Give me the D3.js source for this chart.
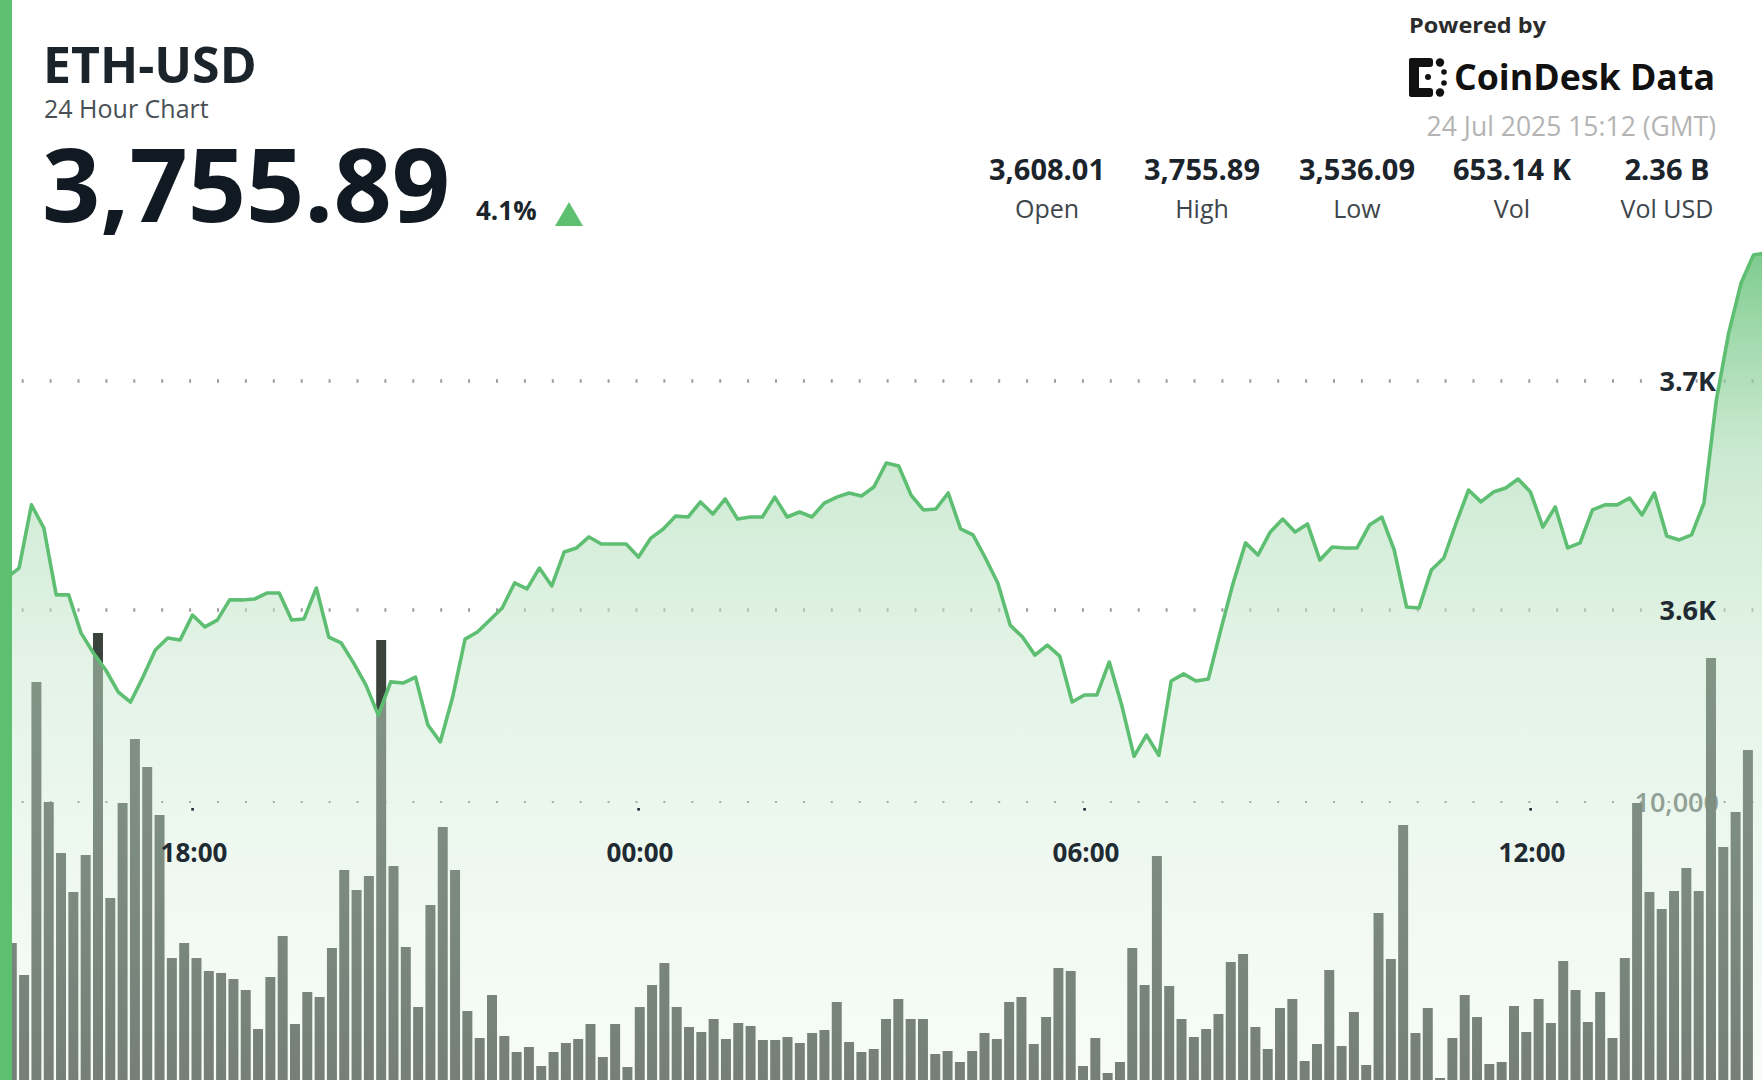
<!DOCTYPE html>
<html>
<head>
<meta charset="utf-8">
<script src="https://cdn.jsdelivr.net/npm/d3@7"></script>
<style>
  html, body { margin: 0; padding: 0; background: #ffffff; }
  svg { display: block; }
  text { font-family: "Open Sans", "Noto Sans", sans-serif; }
</style>
</head>
<body>
<svg id="chart" width="1762" height="1080"></svg>
<script>
// ---------------- DATA ----------------
const symbol = "ETH-USD";
const subtitle = "24 Hour Chart";
const lastPrice = "3,755.89";
const changePct = "4.1%";
const poweredBy = "Powered by";
const brand = "CoinDesk Data";
const timestamp = "24 Jul 2025 15:12 (GMT)";
const statLabels = ["Open", "High", "Low", "Vol", "Vol USD"];
const statValues = ["3,608.01", "3,755.89", "3,536.09", "653.14 K", "2.36 B"];
const priceTicks = [3600, 3700];
const volumeTicks = [10000];

// 10-minute price points, 23 Jul 15:30 -> 24 Jul 15:10 (GMT)
const prices = [
  3614.0, 3618.3, 3645.9, 3635.8, 3606.6, 3606.6, 3590.0, 3581.2, 3573.8, 3564.2,
  3559.8, 3570.7, 3582.5, 3587.8, 3586.9, 3597.8, 3592.6, 3595.6, 3604.4, 3604.4,
  3604.8, 3607.4, 3607.4, 3595.6, 3596.1, 3609.6, 3588.2, 3585.6, 3576.9, 3567.2,
  3554.1, 3568.6, 3568.1, 3570.7, 3549.8, 3542.4, 3562.0, 3587.3, 3590.4, 3595.6,
  3600.9, 3611.8, 3609.2, 3618.3, 3610.5, 3625.3, 3627.1, 3631.9, 3628.8, 3628.8,
  3628.8, 3623.1, 3631.4, 3635.4, 3641.0, 3640.6, 3647.2, 3641.9, 3648.5, 3639.7,
  3640.6, 3640.6, 3649.3, 3640.6, 3642.8, 3640.6, 3646.7, 3649.3, 3651.1, 3649.8,
  3653.7, 3664.2, 3662.9, 3650.2, 3643.7, 3644.1, 3651.1, 3635.4, 3632.8, 3622.7,
  3611.8, 3593.4, 3588.2, 3580.3, 3584.7, 3579.9, 3559.8, 3562.9, 3562.9, 3577.3,
  3558.5, 3536.1, 3545.4, 3536.5, 3569.0, 3572.1, 3569.0, 3569.9, 3591.3, 3611.8,
  3629.3, 3624.0, 3634.1, 3639.7, 3634.1, 3637.6, 3621.8, 3627.5, 3627.1, 3627.1,
  3637.1, 3640.6, 3626.2, 3601.3, 3600.9, 3617.5, 3622.7, 3638.0, 3652.4, 3647.2,
  3651.5, 3653.3, 3657.2, 3651.5, 3636.2, 3645.0, 3627.1, 3629.3, 3643.7, 3645.9,
  3645.9, 3648.9, 3641.5, 3651.1, 3632.3, 3630.6, 3632.8, 3646.7, 3691.7, 3721.0,
  3742.8, 3755.0, 3755.89
];

// 10-minute volumes (ETH), 23 Jul 15:30 -> 24 Jul 15:00 (GMT)
const volumes = [
  4928, 3777, 14316, 10000, 8165, 6762, 8093, 16079, 6547, 9964,
  12266, 11259, 9532, 4388, 4928, 4388, 3921, 3849, 3633, 3237,
  1834, 3705, 5180, 2014, 3165, 2986, 4748, 7554, 6834, 7338,
  15827, 7698, 4784, 2626, 6295, 9100, 7554, 2482, 1511, 3057,
  1583, 1007, 1187, 504, 1007, 1331, 1475, 2014, 827, 2014,
  468, 2626, 3417, 4208, 2626, 1906, 1727, 2194, 1475, 2050,
  1942, 1439, 1439, 1547, 1331, 1691, 1799, 2806, 1367, 1007,
  1115, 2194, 2914, 2194, 2194, 935, 1043, 647, 1043, 1691,
  1475, 2806, 2986, 1295, 2266, 4029, 3921, 504, 1511, 252,
  647, 4748, 3417, 8057, 3381, 2194, 1547, 1834, 2374, 4244,
  4532, 1906, 1115, 2590, 2914, 683, 1295, 3957, 1223, 2446,
  540, 6007, 4352, 9172, 1691, 2590, 72, 1511, 3057, 2266,
  576, 647, 2662, 1727, 2914, 2050, 4280, 3237, 2086, 3165,
  1511, 4388, 9964, 6762, 6151, 6798, 7626, 6798, 15180, 8381,
  9640, 11870
];

const startTime = new Date(Date.UTC(2025, 6, 23, 15, 30));
const times = d3.utcMinute.every(10).range(startTime, d3.utcMinute.offset(startTime, 10 * prices.length));

// ---------------- LAYOUT ----------------
const W = 1762, H = 1080;
const svg = d3.select("#chart");

const x = d3.scaleUtc()
  .domain([new Date(Date.UTC(2025, 6, 23, 18, 0)), new Date(Date.UTC(2025, 6, 24, 12, 0))])
  .range([192.5, 1530.5]);

const xBar = d3.scaleBand()
  .domain(d3.range(volumes.length))
  .range([5.63, 5.63 + 12.313 * volumes.length])
  .paddingInner(0.19)
  .paddingOuter(0.095);

const y = d3.scaleLinear().domain([3600, 3700]).range([610, 381]);
const yVol = d3.scaleLinear().domain([0, 10000]).range([1080, 802]);

const priceData = prices.map((p, i) => ({ t: times[i], p }));

// gradient
const defs = svg.append("defs");
const grad = defs.append("linearGradient")
  .attr("id", "areaGrad")
  .attr("gradientUnits", "userSpaceOnUse")
  .attr("x1", 0).attr("y1", 250).attr("x2", 0).attr("y2", H);
[
  { o: 0, c: "rgb(92,190,112)", a: 0.8 },
  { o: 0.25, c: "rgb(170,220,180)", a: 0.6 },
  { o: 0.5, c: "rgb(200,232,206)", a: 0.5 },
  { o: 1, c: "rgb(232,246,234)", a: 0.34 }
].forEach(s => grad.append("stop").attr("offset", s.o).attr("stop-color", s.c).attr("stop-opacity", s.a));

// background
svg.append("rect").attr("width", W).attr("height", H).attr("fill", "#ffffff");

// price gridlines
svg.append("g").selectAll("line").data(priceTicks).join("line")
  .attr("x1", 21.7).attr("x2", W)
  .attr("y1", d => y(d)).attr("y2", d => y(d))
  .attr("stroke", "#9c9c9c").attr("stroke-width", 3.4)
  .attr("stroke-dasharray", "2 25.9");

// volume gridline
svg.append("g").selectAll("line").data(volumeTicks).join("line")
  .attr("x1", 21.7).attr("x2", W)
  .attr("y1", d => yVol(d)).attr("y2", d => yVol(d))
  .attr("stroke", "#7a807a").attr("stroke-width", 2)
  .attr("stroke-dasharray", "2 25.9");

// volume label (under bars and area)
svg.append("g").selectAll("text").data(volumeTicks).join("text")
  .attr("x", 1719).attr("y", d => yVol(d) + 10)
  .attr("text-anchor", "end")
  .attr("font-size", 27).attr("font-weight", 600)
  .attr("fill", "#5c625e")
  .text(d => d3.format(",")(d));

// volume bars
svg.append("g").selectAll("rect").data(volumes).join("rect")
  .attr("x", (d, i) => xBar(i))
  .attr("width", xBar.bandwidth())
  .attr("y", d => yVol(d))
  .attr("height", d => yVol(0) - yVol(d))
  .attr("fill", "#3a423c");

// area
const area = d3.area().x(d => x(d.t)).y0(H).y1(d => y(d.p));
svg.append("path").datum(priceData).attr("d", area).attr("fill", "url(#areaGrad)");

// line
const line = d3.line().x(d => x(d.t)).y(d => y(d.p));
svg.append("path").datum(priceData).attr("d", line)
  .attr("fill", "none").attr("stroke", "#5ebf73").attr("stroke-width", 3.6)
  .attr("stroke-linejoin", "round");

// price labels
svg.append("g").selectAll("text").data(priceTicks).join("text")
  .attr("x", 1716).attr("y", d => y(d) + 10)
  .attr("text-anchor", "end")
  .attr("font-size", 27).attr("font-weight", 700)
  .attr("fill", "#1f2a33")
  .text(d => (d / 1000).toFixed(1) + "K");

// x ticks & labels
const xTicks = x.ticks(d3.utcHour.every(6)).filter(t => x(t) > 20 && x(t) < W - 20);
const fmt = d3.utcFormat("%H:%M");
svg.append("g").selectAll("rect").data(xTicks).join("rect")
  .attr("x", d => x(d) - 1.2).attr("y", 808).attr("width", 2.6).attr("height", 2.6)
  .attr("fill", "#1f2a33");
svg.append("g").selectAll("text").data(xTicks).join("text")
  .attr("x", d => x(d) + 1.5).attr("y", 862)
  .attr("text-anchor", "middle")
  .attr("font-size", 26).attr("font-weight", 700)
  .attr("fill", "#1f2a33")
  .text(d => fmt(d));

// left accent bar
svg.append("rect").attr("x", 0).attr("y", 0).attr("width", 12).attr("height", H).attr("fill", "#5dbf70");

// ---------------- HEADER ----------------
svg.append("text").attr("x", 43).attr("y", 83)
  .attr("font-size", 50).attr("font-weight", 700).attr("fill", "#1b232b")
  .text(symbol);
svg.append("text").attr("x", 44).attr("y", 118)
  .attr("font-size", 25).attr("fill", "#484f55")
  .text(subtitle);
svg.append("text").attr("x", 42).attr("y", 222)
  .attr("font-size", 102).attr("font-weight", 700).attr("fill", "#111a22")
  .text(lastPrice);
svg.append("text").attr("x", 476).attr("y", 220)
  .attr("font-size", 26).attr("font-weight", 700).attr("fill", "#1b232b")
  .text(changePct);
svg.append("path").attr("d", "M555,226 L583,226 L569,202 Z").attr("fill", "#5dbf70");

// Powered by + logo
svg.append("text").attr("x", 1409).attr("y", 33)
  .attr("font-family", "Inter, 'Open Sans', sans-serif")
  .attr("font-size", 22).attr("font-weight", 700).attr("fill", "#2b2b2b")
  .attr("textLength", 137).attr("lengthAdjust", "spacingAndGlyphs")
  .text(poweredBy);

const logo = svg.append("g").attr("fill", "#111111");
logo.append("rect").attr("x", 1409).attr("y", 58).attr("width", 10).attr("height", 39).attr("rx", 3);
logo.append("rect").attr("x", 1409).attr("y", 58).attr("width", 24).attr("height", 9).attr("rx", 3);
logo.append("rect").attr("x", 1409).attr("y", 88).attr("width", 24).attr("height", 9).attr("rx", 3);
logo.append("circle").attr("cx", 1440).attr("cy", 62.5).attr("r", 4.2);
logo.append("circle").attr("cx", 1440).attr("cy", 92.5).attr("r", 4.2);
logo.append("circle").attr("cx", 1444).attr("cy", 72).attr("r", 2.8);
logo.append("circle").attr("cx", 1444).attr("cy", 83).attr("r", 2.8);
logo.append("circle").attr("cx", 1428).attr("cy", 77).attr("r", 3);

svg.append("text").attr("x", 1454).attr("y", 90)
  .attr("font-family", "Inter, 'Open Sans', sans-serif")
  .attr("font-size", 36).attr("font-weight", 700).attr("fill", "#111111")
  .attr("textLength", 261).attr("lengthAdjust", "spacingAndGlyphs")
  .text(brand);

svg.append("text").attr("x", 1716).attr("y", 136)
  .attr("text-anchor", "end")
  .attr("font-size", 26.5).attr("fill", "#b4b4b4")
  .text(timestamp);

// stats
const sx = d3.scalePoint().domain(statLabels).range([1047, 1667]);
svg.append("g").selectAll("text").data(statValues).join("text")
  .attr("x", (d, i) => sx(statLabels[i])).attr("y", 180)
  .attr("text-anchor", "middle")
  .attr("font-size", 29).attr("font-weight", 700).attr("fill", "#1b232b")
  .text(d => d);
svg.append("g").selectAll("text").data(statLabels).join("text")
  .attr("x", d => sx(d)).attr("y", 218)
  .attr("text-anchor", "middle")
  .attr("font-size", 25).attr("fill", "#3e464c")
  .text(d => d);
</script>
</body>
</html>
